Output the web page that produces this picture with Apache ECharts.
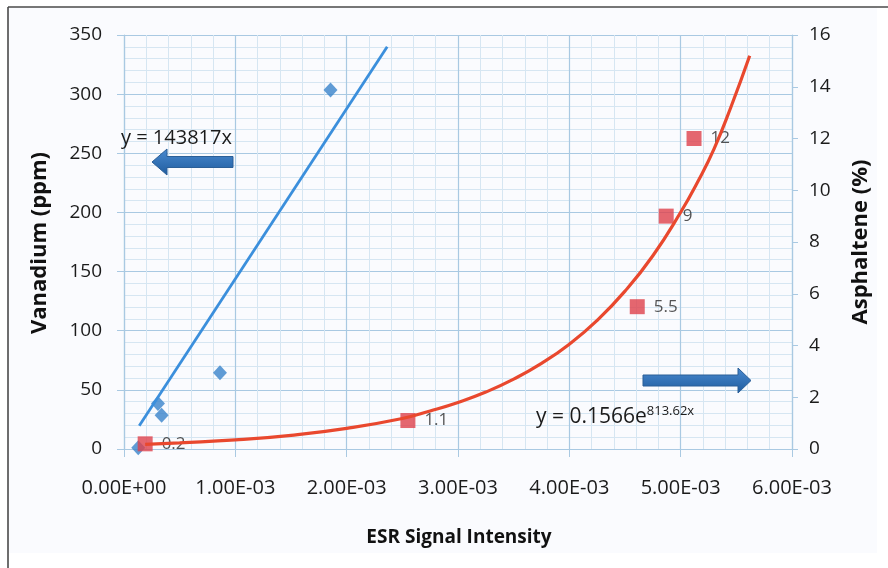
<!DOCTYPE html>
<html>
<head>
<meta charset="utf-8">
<script src="https://cdn.jsdelivr.net/npm/echarts@6/dist/echarts.min.js"></script>
<style>
html,body{margin:0;padding:0;background:#fff;}
#c{width:888px;height:568px;}
</style>
</head>
<body>
<div id="c"></div>
<script>
// ESR signal intensity vs Vanadium (left axis)
const esrV = [0.000128, 0.000305, 0.000338, 0.000862, 0.001855];
const vanadium = [1, 38.5, 28.5, 64.5, 303.5];
// ESR signal intensity vs Asphaltene (right axis)
const esrA = [0.00019, 0.00255, 0.00461, 0.00487, 0.00512];
const asphaltene = [0.2, 1.1, 5.5, 9, 12];
// Linear trendline
const vTrendX = [0.000137, 0.002364];
const vTrendY = [19.7, 340];
// Exponential trendline
const aTrendX = [0.00019, 0.0005, 0.001, 0.0015, 0.002, 0.0025, 0.00275, 0.003, 0.00325, 0.0035, 0.00375, 0.004, 0.00425, 0.0045, 0.00475, 0.005, 0.00515, 0.0053, 0.00545, 0.00562];
const aTrendY = [0.18, 0.24, 0.35, 0.53, 0.80, 1.18, 1.47, 1.80, 2.20, 2.70, 3.31, 4.05, 4.97, 6.10, 7.47, 9.15, 10.3, 11.6, 13.2, 15.2];
// Axis ticks
const xTicks = { min: 0, max: 0.006, interval: 0.001 };
const yLeftTicks = { min: 0, max: 350, interval: 50 };
const yRightTicks = { min: 0, max: 16, interval: 2 };
const eqLinear = 'y = 143817x';
const eqExpBase = 'y = 0.1566e';
const eqExpPow = '813.62x';

const FONT = '"Open Sans", "Noto Sans", sans-serif';
const zip = (a, b) => a.map((v, i) => [v, b[i]]);

function sci(v) {
  if (Math.abs(v) < 1e-12) return '0.00E+00';
  const s = v.toExponential(2).toUpperCase();
  const m = s.match(/^(-?[\d.]+)E([+-])(\d+)$/);
  const e = m[3].length < 2 ? '0' + m[3] : m[3];
  return m[1] + 'E' + m[2] + e;
}

const gridMajor = '#a9c9e2';
const gridMinor = '#d6e6f2';
const TXT = '#1b1b1b';

const chart = echarts.init(document.getElementById('c'), null, { renderer: 'canvas' });
chart.setOption({
  backgroundColor: '#ffffff',
  animation: false,
  grid: { left: 124, right: 96, top: 35, bottom: 119 },
  xAxis: {
    type: 'value',
    min: xTicks.min, max: xTicks.max, interval: xTicks.interval,
    axisLine: { show: true, onZero: false, lineStyle: { color: gridMajor, width: 1.2 } },
    axisTick: { show: true, length: 8, lineStyle: { color: gridMajor } },
    minorTick: { show: false, splitNumber: 5 },
    minorSplitLine: { show: true, lineStyle: { color: gridMinor, width: 1 } },
    splitLine: { show: true, lineStyle: { color: gridMajor, width: 1.2 } },
    axisLabel: { formatter: sci, margin: 29, fontFamily: FONT, fontSize: 20, color: TXT }
  },
  yAxis: [
    {
      type: 'value',
      min: yLeftTicks.min, max: yLeftTicks.max, interval: yLeftTicks.interval,
      axisLine: { show: true, lineStyle: { color: gridMajor, width: 1.2 } },
      axisTick: { show: true, length: 7, lineStyle: { color: gridMajor } },
      minorTick: { show: false, splitNumber: 5 },
      minorSplitLine: { show: true, lineStyle: { color: gridMinor, width: 1 } },
      splitLine: { show: true, lineStyle: { color: gridMajor, width: 1.2 } },
      axisLabel: { margin: 22, fontFamily: FONT, fontSize: 19, color: TXT }
    },
    {
      type: 'value',
      position: 'right',
      min: yRightTicks.min, max: yRightTicks.max, interval: yRightTicks.interval,
      axisLine: { show: true, lineStyle: { color: gridMajor, width: 1.2 } },
      axisTick: { show: true, length: 6, lineStyle: { color: gridMajor } },
      splitLine: { show: false },
      axisLabel: { margin: 17, fontFamily: FONT, fontSize: 19, color: TXT }
    }
  ],
  series: [
    {
      type: 'scatter', name: 'Vanadium', yAxisIndex: 0,
      symbol: 'diamond', symbolSize: [14, 15],
      itemStyle: { color: '#3883cb' },
      data: zip(esrV, vanadium), z: 3
    },
    {
      type: 'scatter', name: 'Asphaltene', yAxisIndex: 1,
      symbol: 'rect', symbolSize: 15,
      itemStyle: { color: '#df414b' },
      label: {
        show: true, position: 'right', distance: 9,
        formatter: p => String(p.value[1]),
        fontFamily: FONT, fontSize: 17, color: '#2a2a2a'
      },
      data: zip(esrA, asphaltene), z: 3
    },
    {
      type: 'line', name: 'Linear fit', yAxisIndex: 0,
      showSymbol: false, symbol: 'none',
      lineStyle: { color: '#3b8fdc', width: 2.8 },
      data: zip(vTrendX, vTrendY), z: 4
    },
    {
      type: 'line', name: 'Exp fit', yAxisIndex: 1,
      showSymbol: false, symbol: 'none', smooth: true,
      lineStyle: { color: '#e9482e', width: 3.2 },
      data: zip(aTrendX, aTrendY), z: 4
    }
  ],
  graphic: [
    { type: 'rect', z: -10, silent: true, shape: { x: 8, y: 7, width: 869, height: 546 }, style: { fill: '#fafbfe' } },
    { type: 'line', z: 10, silent: true, shape: { x1: 8, y1: 7, x2: 888, y2: 7 }, style: { stroke: '#4a4a4a', lineWidth: 1.6 } },
    { type: 'line', z: 10, silent: true, shape: { x1: 8, y1: 7, x2: 8, y2: 568 }, style: { stroke: '#4a4a4a', lineWidth: 1.6 } },
    {
      type: 'polygon', z: 10, silent: true,
      shape: { points: [[152, 162], [167, 149], [167, 156.5], [233, 156.5], [233, 167.5], [167, 167.5], [167, 175]] },
      style: {
        fill: new echarts.graphic.LinearGradient(0, 0, 0, 1, [{ offset: 0, color: '#4a8ad0' }, { offset: 1, color: '#1f5c9e' }]),
        stroke: '#2b5f97', lineWidth: 1
      }
    },
    {
      type: 'polygon', z: 10, silent: true,
      shape: { points: [[643, 375], [738, 375], [738, 368], [751, 380.5], [738, 393], [738, 386], [643, 386]] },
      style: {
        fill: new echarts.graphic.LinearGradient(0, 0, 0, 1, [{ offset: 0, color: '#4a8ad0' }, { offset: 1, color: '#1f5c9e' }]),
        stroke: '#2b5f97', lineWidth: 1
      }
    },
    {
      type: 'text', z: 10, silent: true, left: 121, top: 128,
      style: { text: eqLinear, fontFamily: FONT, fontSize: 20, fill: TXT }
    },
    {
      type: 'text', z: 10, silent: true, left: 536, top: 405,
      style: {
        text: '{a|' + eqExpBase + '}{b|' + eqExpPow + '}',
        rich: {
          a: { fontFamily: FONT, fontSize: 21, fill: TXT, lineHeight: 26, verticalAlign: 'bottom' },
          b: { fontFamily: FONT, fontSize: 13, fill: TXT, lineHeight: 26, verticalAlign: 'bottom', padding: [0, 0, 10, 0] }
        }
      }
    },
    {
      type: 'text', z: 10, silent: true, x: 40, y: 243, rotation: Math.PI / 2,
      style: { text: 'Vanadium (ppm)', fontFamily: FONT, fontSize: 22, fontWeight: 'bold', fill: '#111', align: 'center', verticalAlign: 'middle' }
    },
    {
      type: 'text', z: 10, silent: true, x: 861, y: 242, rotation: Math.PI / 2,
      style: { text: 'Asphaltene (%)', fontFamily: FONT, fontSize: 22, fontWeight: 'bold', fill: '#111', align: 'center', verticalAlign: 'middle' }
    },
    {
      type: 'text', z: 10, silent: true, x: 459, y: 538,
      style: { text: 'ESR Signal Intensity', fontFamily: FONT, fontSize: 19, fontWeight: 'bold', fill: '#111', align: 'center', verticalAlign: 'middle' }
    }
  ]
});
</script>
</body>
</html>
